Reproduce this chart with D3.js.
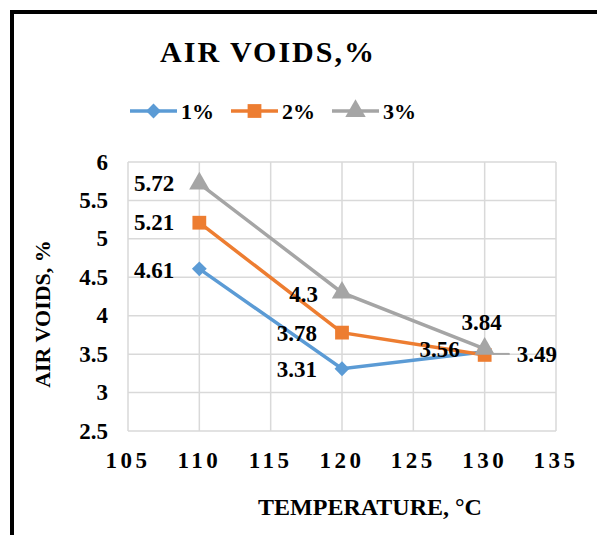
<!DOCTYPE html>
<html>
<head>
<meta charset="utf-8">
<script src="https://cdn.jsdelivr.net/npm/d3@7"></script>
<style>
  body { margin: 0; background: #fff; }
  text { font-family: "Liberation Serif", "Times New Roman", serif; font-weight: bold; fill: #000; }
</style>
</head>
<body>
<div id="chart"></div>
<script>
// data
var temps = [110, 120, 130];
var seriesNames = ["1%", "2%", "3%"];
var voids1 = [4.61, 3.31, 3.53];
var voids2 = [5.21, 3.78, 3.49];
var voids3 = [5.72, 4.30, 3.57];
var labels1 = ["4.61", "3.31", "3.56"];
var labels2 = ["5.21", "3.78", "3.49"];
var labels3 = ["5.72", "4.3", "3.84"];
var xTicks = [105, 110, 115, 120, 125, 130, 135];
var yTicks = [2.5, 3, 3.5, 4, 4.5, 5, 5.5, 6];

var width = 597, height = 535;
var colors = ["#5b9bd5", "#ed7d31", "#a5a5a5"];

var svg = d3.select("#chart").append("svg")
    .attr("width", width)
    .attr("height", height);

// frame (only left and top edges visible)
svg.append("path")
    .attr("d", "M12,540 L12,12 L600,12")
    .attr("fill", "none")
    .attr("stroke", "#000")
    .attr("stroke-width", 4);

var x = d3.scaleLinear().domain([105, 135]).range([128, 556]);
var y = d3.scaleLinear().domain([2.5, 6]).range([431, 162]);

// grid
var grid = svg.append("g");
grid.selectAll("line.h").data(yTicks).enter().append("line")
    .attr("x1", x(105)).attr("x2", x(135))
    .attr("y1", d => y(d)).attr("y2", d => y(d))
    .attr("stroke", "#d9d9d9").attr("stroke-width", 1.5);
grid.selectAll("line.v").data(xTicks).enter().append("line")
    .attr("x1", d => x(d)).attr("x2", d => x(d))
    .attr("y1", y(2.5)).attr("y2", y(6))
    .attr("stroke", "#d9d9d9").attr("stroke-width", 1.5);

// axes labels
svg.append("g").selectAll("text").data(yTicks).enter().append("text")
    .attr("x", 108).attr("y", d => y(d))
    .attr("text-anchor", "end")
    .attr("dominant-baseline", "central")
    .style("font-size", "23px")
    .text(d => d);

svg.append("g").selectAll("text").data(xTicks).enter().append("text")
    .attr("x", d => x(d)).attr("y", 468)
    .attr("text-anchor", "middle")
    .style("font-size", "23px")
    .style("letter-spacing", "3.5px")
    .text(d => d);

// titles
svg.append("text")
    .attr("x", 268).attr("y", 62)
    .attr("text-anchor", "middle")
    .style("font-size", "30px")
    .style("letter-spacing", "2px")
    .text("AIR VOIDS,%");

svg.append("text")
    .attr("x", 370).attr("y", 515)
    .attr("text-anchor", "middle")
    .style("font-size", "24px")
    .text("TEMPERATURE, °C");

svg.append("text")
    .attr("transform", "translate(42,314) rotate(-90)")
    .attr("text-anchor", "middle")
    .attr("dominant-baseline", "central")
    .style("font-size", "22px")
    .text("AIR VOIDS, %");

// marker shapes
var symbols = [
    d3.symbol().type(d3.symbolDiamond2).size(140),
    d3.symbol().type(d3.symbolSquare).size(190),
    d3.symbol().type(d3.symbolTriangle).size(180)
];

var allVals = [voids1, voids2, voids3];
var allLabels = [labels1, labels2, labels3];

var line = d3.line()
    .x((d, i) => x(temps[i]))
    .y(d => y(d));

allVals.forEach(function (vals, s) {
    var g = svg.append("g");
    g.append("path")
        .attr("d", line(vals))
        .attr("fill", "none")
        .attr("stroke", colors[s])
        .attr("stroke-width", 3.5);
    g.selectAll("path.m").data(vals).enter().append("path")
        .attr("d", symbols[s])
        .attr("fill", colors[s])
        .attr("transform", (d, i) => "translate(" + x(temps[i]) + "," + y(d) + ")");
});

// leader line for the 3.49 label
svg.append("line")
    .attr("x1", x(130) + 8).attr("x2", x(130) + 25)
    .attr("y1", y(voids2[2]) - 1).attr("y2", y(voids2[2]) - 1)
    .attr("stroke", "#a5a5a5").attr("stroke-width", 2);

// data labels: dx, dy, anchor relative to each point
var labelPos = [
    [[-25, 2, "end"], [-25, 1, "end"], [-25, -2, "end"]],
    [[-25, 0, "end"], [-25, 1, "end"], [32, 0, "start"]],
    [[-25, 0, "end"], [-24, 2, "end"], [-3, -26, "middle"]]
];
allVals.forEach(function (vals, s) {
    svg.append("g").selectAll("text").data(vals).enter().append("text")
        .attr("x", (d, i) => x(temps[i]) + labelPos[s][i][0])
        .attr("y", (d, i) => y(d) + labelPos[s][i][1])
        .attr("text-anchor", (d, i) => labelPos[s][i][2])
        .attr("dominant-baseline", "central")
        .style("font-size", "23px")
        .text((d, i) => allLabels[s][i]);
});

// legend
var legendX = [130, 231, 332];
var legend = svg.append("g");
seriesNames.forEach(function (name, s) {
    var lx = legendX[s], ly = 111;
    legend.append("line")
        .attr("x1", lx).attr("x2", lx + 47)
        .attr("y1", ly).attr("y2", ly)
        .attr("stroke", colors[s]).attr("stroke-width", 3.5);
    legend.append("path")
        .attr("d", symbols[s])
        .attr("fill", colors[s])
        .attr("transform", "translate(" + (lx + 23.5) + "," + ly + ")");
    legend.append("text")
        .attr("x", lx + 51).attr("y", ly)
        .attr("dominant-baseline", "central")
        .style("font-size", "22px")
        .text(name);
});
</script>
</body>
</html>
